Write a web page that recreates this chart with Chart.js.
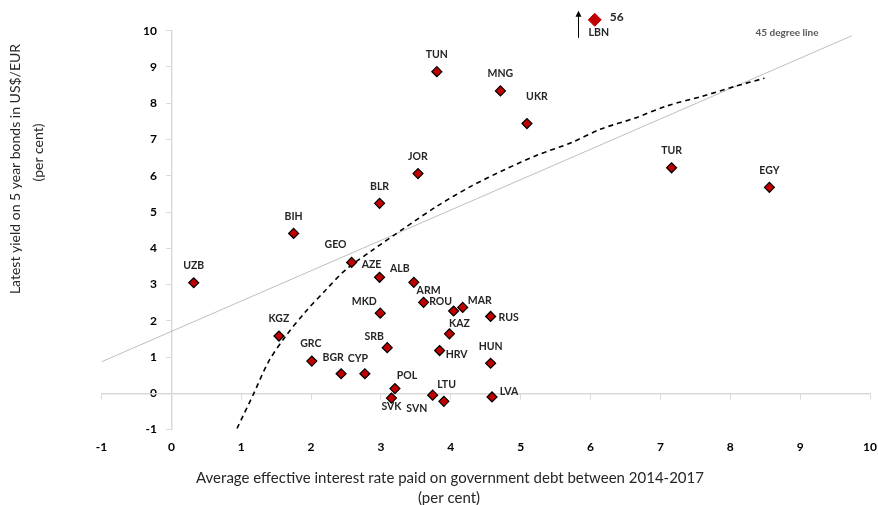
<!DOCTYPE html>
<html>
<head>
<meta charset="utf-8">
<script src="https://cdn.jsdelivr.net/npm/chart.js@4.4.1/dist/chart.umd.min.js"></script>
<style>
  html, body { margin: 0; padding: 0; background: #fff; overflow: hidden; }
  #wrap { width: 878px; height: 505px; position: relative; }
</style>
</head>
<body>
<div id="wrap"><canvas id="chart"></canvas></div>
<script>
// Countries
const codes  = ['TUN','MNG','UKR','JOR','BLR','TUR','EGY','BIH','UZB','KGZ','GEO','AZE','ALB','ARM','ROU','MAR','RUS','MKD','KAZ','SRB','HRV','HUN','GRC','BGR','CYP','POL','SVK','LTU','SVN','LVA'];
const rates  = [3.80, 4.71, 5.09, 3.53, 2.98, 7.16, 8.56, 1.75, 0.32, 1.54, 2.58, 2.98, 3.47, 3.61, 4.04, 4.17, 4.57, 2.99, 3.98, 3.09, 3.84, 4.57, 2.01, 2.43, 2.77, 3.20, 3.15, 3.74, 3.90, 4.59];
const yields = [8.87, 8.34, 7.44, 6.06, 5.24, 6.22, 5.68, 4.41, 3.05, 1.58, 3.61, 3.20, 3.06, 2.51, 2.27, 2.37, 2.12, 2.21, 1.64, 1.26, 1.18, 0.83, 0.89, 0.54, 0.54, 0.13, -0.13, -0.05, -0.22, -0.10];

// Lebanon is off the scale (56), drawn capped at the top
const lbnRate = 6.06;
const lbnShown = 10.3;
const lbnActual = '56';

// 45 degree line end points
const refX = [-1, 9.74];
const refY = [0.87, 9.86];

// dashed fitted curve, points read along it
const fitX = [0.94, 1.18, 1.39, 1.63, 1.92, 2.21, 2.49, 2.88, 3.33, 3.81, 4.28, 4.76, 5.24, 5.72, 6.15, 6.62, 7.10, 7.58, 8.06, 8.49];
const fitY = [-0.97, 0.00, 0.87, 1.56, 2.25, 2.85, 3.40, 3.95, 4.55, 5.17, 5.70, 6.16, 6.57, 6.91, 7.29, 7.58, 7.93, 8.18, 8.46, 8.69];

const xTitle = ['Average effective interest rate paid on government debt between 2014-2017', '(per cent)'];
const yTitle = ['Latest yield on 5 year bonds in US$/EUR', '(per cent)'];

// where each code sits relative to its marker (px)
const labelOffsets = {
    GEO: [-16, -18], AZE: [-8, -13], ALB: [-14, -14], ARM: [5, -12], ROU: [-13, -9],
    MAR: [17, -7], RUS: [18, 1], MKD: [-16, -12], KAZ: [10, -10], SRB: [-13, -11],
    HRV: [17, 4], BGR: [-8, -16], CYP: [-7, -15], POL: [12, -13], SVK: [0, 9],
    LTU: [14, -11], SVN: [-27, 7], LVA: [17, -5], UKR: [10, -27], GRC: [-1, -17]
};

const FONT = 'Lato, "Open Sans", sans-serif';

const annotations = {
    id: 'annotations',
    afterDatasetsDraw(chart) {
        const ctx = chart.ctx;
        ctx.save();
        ctx.textAlign = 'center';
        ctx.textBaseline = 'middle';
        ctx.fillStyle = '#262626';
        ctx.font = 'bold 10.5px ' + FONT;

        chart.getDatasetMeta(0).data.forEach((pt, i) => {
            const off = labelOffsets[codes[i]] || [0, -17];
            ctx.fillText(codes[i], pt.x + off[0], pt.y + off[1]);
        });

        // Lebanon: code, real value and an arrow
        const lbn = chart.getDatasetMeta(1).data[0];
        ctx.fillText('LBN', lbn.x + 4, lbn.y + 13);
        ctx.font = 'bold 12px ' + FONT;
        ctx.fillText(lbnActual, lbn.x + 22, lbn.y - 3);

        const ax = Math.round(lbn.x - 17) + 0.5;
        ctx.strokeStyle = '#000';
        ctx.lineWidth = 1;
        ctx.beginPath();
        ctx.moveTo(ax, lbn.y + 18);
        ctx.lineTo(ax, lbn.y - 4);
        ctx.stroke();
        ctx.beginPath();
        ctx.moveTo(ax, lbn.y - 9);
        ctx.lineTo(ax - 3, lbn.y - 3);
        ctx.lineTo(ax + 3, lbn.y - 3);
        ctx.closePath();
        ctx.fillStyle = '#000';
        ctx.fill();

        // label of the reference line
        ctx.fillStyle = '#595959';
        ctx.font = 'bold 10px ' + FONT;
        ctx.fillText('45 degree line', 787, 33);
        ctx.restore();
    },
    afterDraw(chart) {
        const ctx = chart.ctx;
        ctx.save();
        ctx.fillStyle = '#262626';
        ctx.textAlign = 'center';
        ctx.textBaseline = 'middle';
        ctx.font = '15px ' + FONT;
        ctx.fillText(xTitle[0], 450, 478);
        ctx.fillText(xTitle[1], 449, 498);

        ctx.font = '14px ' + FONT;
        ctx.translate(15, 169);
        ctx.rotate(-Math.PI / 2);
        ctx.fillText(yTitle[0], 0, 0);
        ctx.fillText(yTitle[1], 169 - 152.5, 23);
        ctx.restore();
    }
};

new Chart(document.getElementById('chart'), {
    type: 'scatter',
    data: {
        datasets: [{
            label: 'Countries',
            data: rates.map((r, i) => ({ x: r, y: yields[i] })),
            pointStyle: 'rectRot',
            radius: 5,
            backgroundColor: '#C00000',
            borderColor: '#000',
            borderWidth: 1.2,
            order: 1
        }, {
            label: 'LBN',
            data: [{ x: lbnRate, y: lbnShown }],
            pointStyle: 'rectRot',
            radius: 6.5,
            hoverRadius: 16, // keeps the capped marker inside the draw margin
            backgroundColor: '#C00000',
            borderColor: '#C00000',
            borderWidth: 1,
            clip: false,
            order: 1
        }, {
            label: '45 degree line',
            data: refX.map((x, i) => ({ x: x, y: refY[i] })),
            showLine: true,
            borderColor: '#bfbfbf',
            borderWidth: 1,
            pointRadius: 0,
            order: 3
        }, {
            label: 'Fit',
            data: fitX.map((x, i) => ({ x: x, y: fitY[i] })),
            showLine: true,
            borderColor: '#000',
            borderWidth: 1.6,
            borderDash: [5, 4],
            pointRadius: 0,
            tension: 0.3,
            order: 2
        }]
    },
    options: {
        responsive: true,
        maintainAspectRatio: false,
        animation: false,
        events: [],
        layout: { autoPadding: false, padding: { left: 101.5, right: 8, top: 30.7, bottom: 0 } },
        plugins: {
            legend: { display: false },
            tooltip: { enabled: false }
        },
        scales: {
            x: {
                type: 'linear',
                position: 'bottom',
                min: -1, max: 10,
                grid: { display: false },
                border: { display: false },
                ticks: {
                    stepSize: 1, padding: 2, color: '#000',
                    font: { family: FONT, size: 12, weight: 'bold' }
                },
                afterFit: s => { s.height = 75.4; s.paddingLeft = 0; s.paddingRight = 0; }
            },
            y: {
                type: 'linear',
                position: 'left',
                min: -1, max: 10,
                grid: { display: false },
                border: { display: false },
                ticks: {
                    stepSize: 1, color: '#000', mirror: true, crossAlign: 'far', padding: 41.5,
                    font: { family: FONT, size: 12, weight: 'bold' }
                },
                afterFit: s => { s.width = 0; s.paddingTop = 0; s.paddingBottom = 0; }
            },
            xLine: {
                type: 'linear',
                axis: 'x',
                position: { y: 0 },
                min: -1, max: 10,
                ticks: { stepSize: 1, display: false },
                grid: { drawOnChartArea: false, drawTicks: true, tickLength: 5, color: '#d9d9d9' },
                border: { color: '#d9d9d9', width: 1.5 }
            },
            yLine: {
                type: 'linear',
                axis: 'y',
                position: { x: 0 },
                min: -1, max: 10,
                ticks: { stepSize: 1, display: false },
                grid: { drawOnChartArea: false, drawTicks: true, tickLength: 5, color: '#d9d9d9' },
                border: { color: '#d9d9d9', width: 1.5 }
            }
        }
    },
    plugins: [annotations]
});
</script>
</body>
</html>
